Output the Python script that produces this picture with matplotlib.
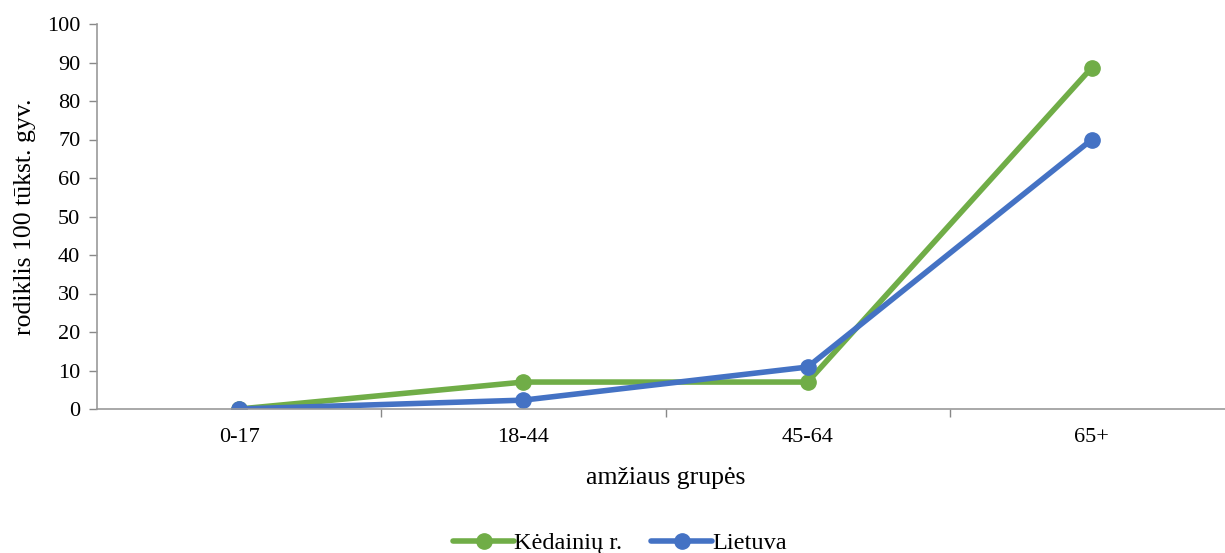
import matplotlib
matplotlib.use("Agg")
import matplotlib.pyplot as plt
import numpy as np

categories = ["0-17", "18-44", "45-64", "65+"]
kedainiai = [0.0, 7.0, 7.0, 88.7]
lietuva = [0.0, 2.3, 10.9, 70.0]

plt.rcParams['font.family'] = ['Liberation Serif', 'DejaVu Serif']

fig = plt.figure(figsize=(12.25, 5.53), dpi=100)
ax = fig.add_axes([97/1225, 1 - 409/553, (1234-97)/1225, (409-24)/553])

x = np.arange(len(categories))
green = "#70AD47"
blue = "#4472C4"
ax.plot(x, kedainiai, color=green, lw=4, marker='o', ms=11, label="Kėdainių r.", solid_capstyle='round')
ax.plot(x, lietuva, color=blue, lw=4, marker='o', ms=11, label="Lietuva", solid_capstyle='round')

ax.set_xlim(-0.5, 3.5)
ax.set_ylim(0, 100)
ax.set_yticks(np.arange(0, 101, 10))
ax.set_xticks(x)
ax.set_xticklabels(categories)
ax.set_xticks(np.arange(0.5, 3, 1), minor=True)
ax.tick_params(axis='x', which='major', length=0, pad=14, labelsize=16)
ax.tick_params(axis='x', which='minor', length=6, color='#888888', width=1)
ax.tick_params(axis='y', length=6, color='#888888', width=1, labelsize=16, pad=6)
for s in ['top', 'right']:
    ax.spines[s].set_visible(False)
for s in ['left', 'bottom']:
    ax.spines[s].set_color('#999999')
    ax.spines[s].set_linewidth(1.2)

ax.set_ylabel("rodiklis 100 tūkst. gyv.", fontsize=18.5, labelpad=8)
ax.set_xlabel("amžiaus grupės", fontsize=18.5, labelpad=14)

leg = fig.legend(loc='center', bbox_to_anchor=(620/1225, 1 - 543/553), ncol=2, frameon=False,
                 fontsize=17.5, handlelength=2.5, handletextpad=0.0, columnspacing=1.2)

fig.savefig("out.png", dpi=100)
